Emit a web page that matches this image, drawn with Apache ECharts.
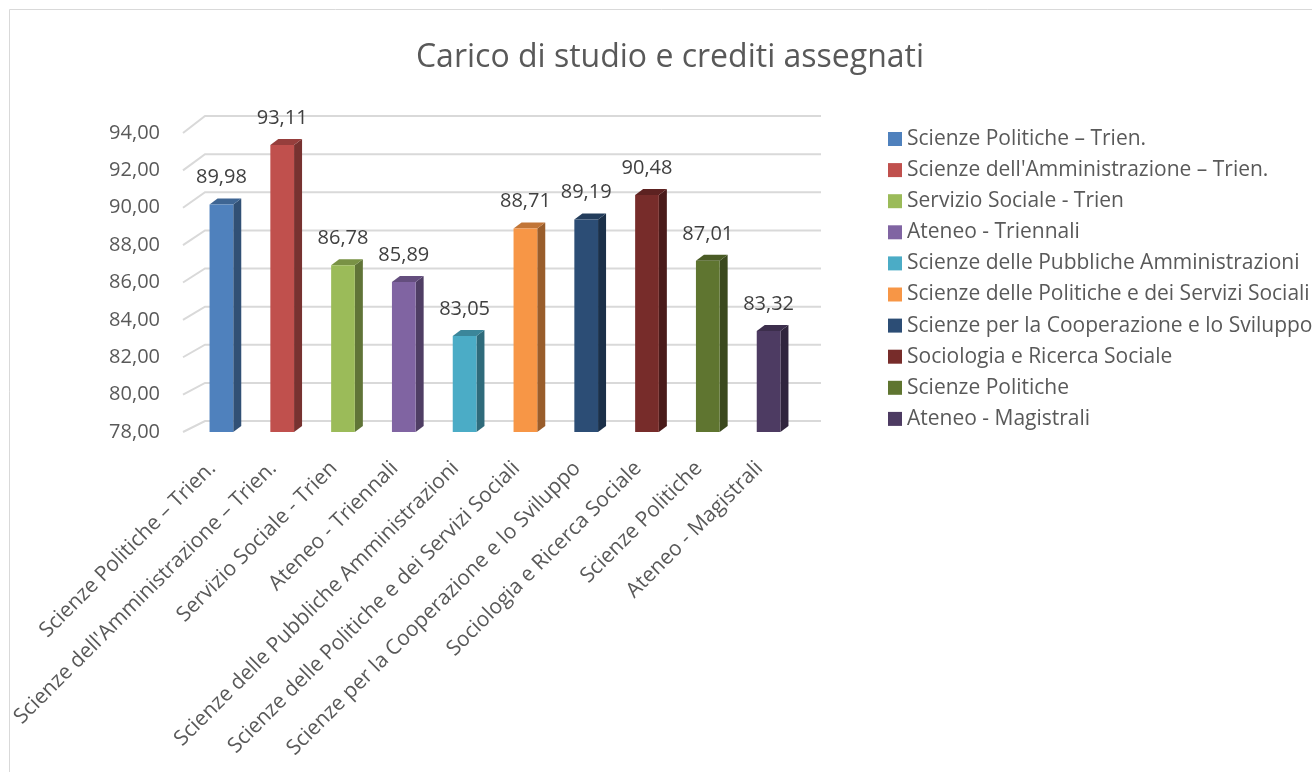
<!DOCTYPE html>
<html>
<head>
<meta charset="utf-8">
<script src="https://cdn.jsdelivr.net/npm/echarts@6/dist/echarts.min.js"></script>
<style>
  html, body { margin: 0; padding: 0; background: #fff; }
  #chart { width: 1312px; height: 772px; }
</style>
</head>
<body>
<div id="chart"></div>
<script>
const categories = [
  'Scienze Politiche – Trien.',
  "Scienze dell'Amministrazione – Trien.",
  'Servizio Sociale - Trien',
  'Ateneo - Triennali',
  'Scienze delle Pubbliche Amministrazioni',
  'Scienze delle Politiche e dei Servizi Sociali',
  'Scienze per la Cooperazione e lo Sviluppo',
  'Sociologia e Ricerca Sociale',
  'Scienze Politiche',
  'Ateneo - Magistrali'
]
const values = [89.98, 93.11, 86.78, 85.89, 83.05, 88.71, 89.19, 90.48, 87.01, 83.32]
const colors = ['#4F81BD', '#C0504D', '#9BBB59', '#8064A2', '#4BACC6', '#F79646', '#2C4D75', '#772C2A', '#5F7530', '#4D3B62']
const yTicks = [78, 80, 82, 84, 86, 88, 90, 92, 94]

const FONT = '"Open Sans", "Noto Sans", sans-serif'
const TEXT = '#595959'

function shade(hex, k) {
  const n = parseInt(hex.slice(1), 16)
  const r = Math.round(((n >> 16) & 255) * k)
  const g = Math.round(((n >> 8) & 255) * k)
  const b = Math.round((n & 255) * k)
  return `rgb(${r},${g},${b})`
}

const fmt = v => v.toFixed(2).replace('.', ',')

// 3D-ish column: front face, darker side, top cap, value label
function renderBar(params, api) {
  const idx = api.value(0)
  const v = api.value(1)
  const top = api.coord([idx, v])
  const base = api.coord([idx, yTicks[0]])
  const w = api.size([1, 0])[0] * 0.39
  const l = top[0] - w / 2
  const r = top[0] + w / 2
  const dx = 8
  const dy = 6
  const c = colors[idx]
  return {
    type: 'group',
    children: [
      { type: 'polygon', shape: { points: [[r, top[1]], [r + dx, top[1] - dy], [r + dx, base[1] - dy], [r, base[1]]] }, style: { fill: shade(c, 0.62) } },
      { type: 'polygon', shape: { points: [[l, top[1]], [l + dx, top[1] - dy], [r + dx, top[1] - dy], [r, top[1]]] }, style: { fill: shade(c, 0.78) } },
      { type: 'rect', shape: { x: l, y: top[1], width: w, height: base[1] - top[1] }, style: { fill: c } },
      { type: 'text', x: top[0], y: top[1] - 27, style: { text: fmt(v), fill: '#404040', font: `20px ${FONT}`, align: 'center', verticalAlign: 'middle' } }
    ]
  }
}

// back-wall gridlines with the short diagonal on the side wall
function renderGrid(params, api) {
  const cs = params.coordSys
  const y = api.coord([0, api.value(0)])[1]
  const bottom = cs.y + cs.height
  const dy = 11 + 6 * (bottom - y) / cs.height
  const x0 = cs.x + 1
  const xEnd = cs.x + cs.width + 31
  return {
    type: 'polyline',
    shape: { points: [[x0, y], [x0 + 22, y - dy], [xEnd, y - dy]] },
    style: { stroke: '#d9d9d9', lineWidth: 2, fill: null }
  }
}

const chart = echarts.init(document.getElementById('chart'), null, { renderer: 'canvas' })

const barSeries = categories.map((name, i) => ({
  name,
  type: 'custom',
  xAxisIndex: 0,
  yAxisIndex: 0,
  clip: false,
  z: 3,
  itemStyle: { color: colors[i] },
  renderItem: renderBar,
  data: [[i, values[i]]]
}))

chart.setOption({
  backgroundColor: '#fff',
  animation: false,
  textStyle: { fontFamily: FONT },
  title: {
    text: 'Carico di studio e crediti assegnati',
    left: 665,
    top: 37,
    textAlign: 'center',
    textStyle: { fontFamily: FONT, fontSize: 32, fontWeight: 'normal', color: TEXT }
  },
  graphic: [
    { type: 'rect', shape: { x: 9.5, y: 9.5, width: 1400, height: 900 }, style: { fill: null, stroke: '#d9d9d9', lineWidth: 1 }, silent: true, z: -1 }
  ],
  legend: {
    orient: 'vertical',
    left: 888,
    top: 127,
    padding: 0,
    itemWidth: 14,
    itemHeight: 14,
    itemGap: 7.1,
    icon: 'rect',
    textStyle: { fontFamily: FONT, fontSize: 21, color: TEXT, lineHeight: 24 },
    data: categories.map((name, i) => ({ name, itemStyle: { color: colors[i] } }))
  },
  grid: [
    { left: 191, top: 128, width: 608, height: 304 },
    { left: 182, top: 133, width: 608, height: 299 }
  ],
  xAxis: [
    { type: 'category', gridIndex: 0, data: categories, show: false },
    {
      type: 'category',
      gridIndex: 1,
      data: categories,
      axisLine: { show: false },
      axisTick: { show: false },
      axisLabel: { rotate: 45, interval: 0, margin: 33, fontSize: 21, color: TEXT, fontFamily: FONT }
    }
  ],
  yAxis: [
    { type: 'value', gridIndex: 0, min: 78, max: 94, interval: 2, show: false },
    {
      type: 'value',
      gridIndex: 1,
      min: 78,
      max: 94,
      interval: 2,
      axisLine: { show: false },
      axisTick: { show: false },
      splitLine: { show: false },
      axisLabel: { margin: 22, fontSize: 20, color: TEXT, fontFamily: FONT, formatter: fmt }
    }
  ],
  series: [
    {
      type: 'custom',
      name: 'grid',
      xAxisIndex: 1,
      yAxisIndex: 1,
      clip: false,
      z: 1,
      silent: true,
      renderItem: renderGrid,
      data: yTicks.map(v => [v])
    },
    ...barSeries
  ]
})
</script>
</body>
</html>
